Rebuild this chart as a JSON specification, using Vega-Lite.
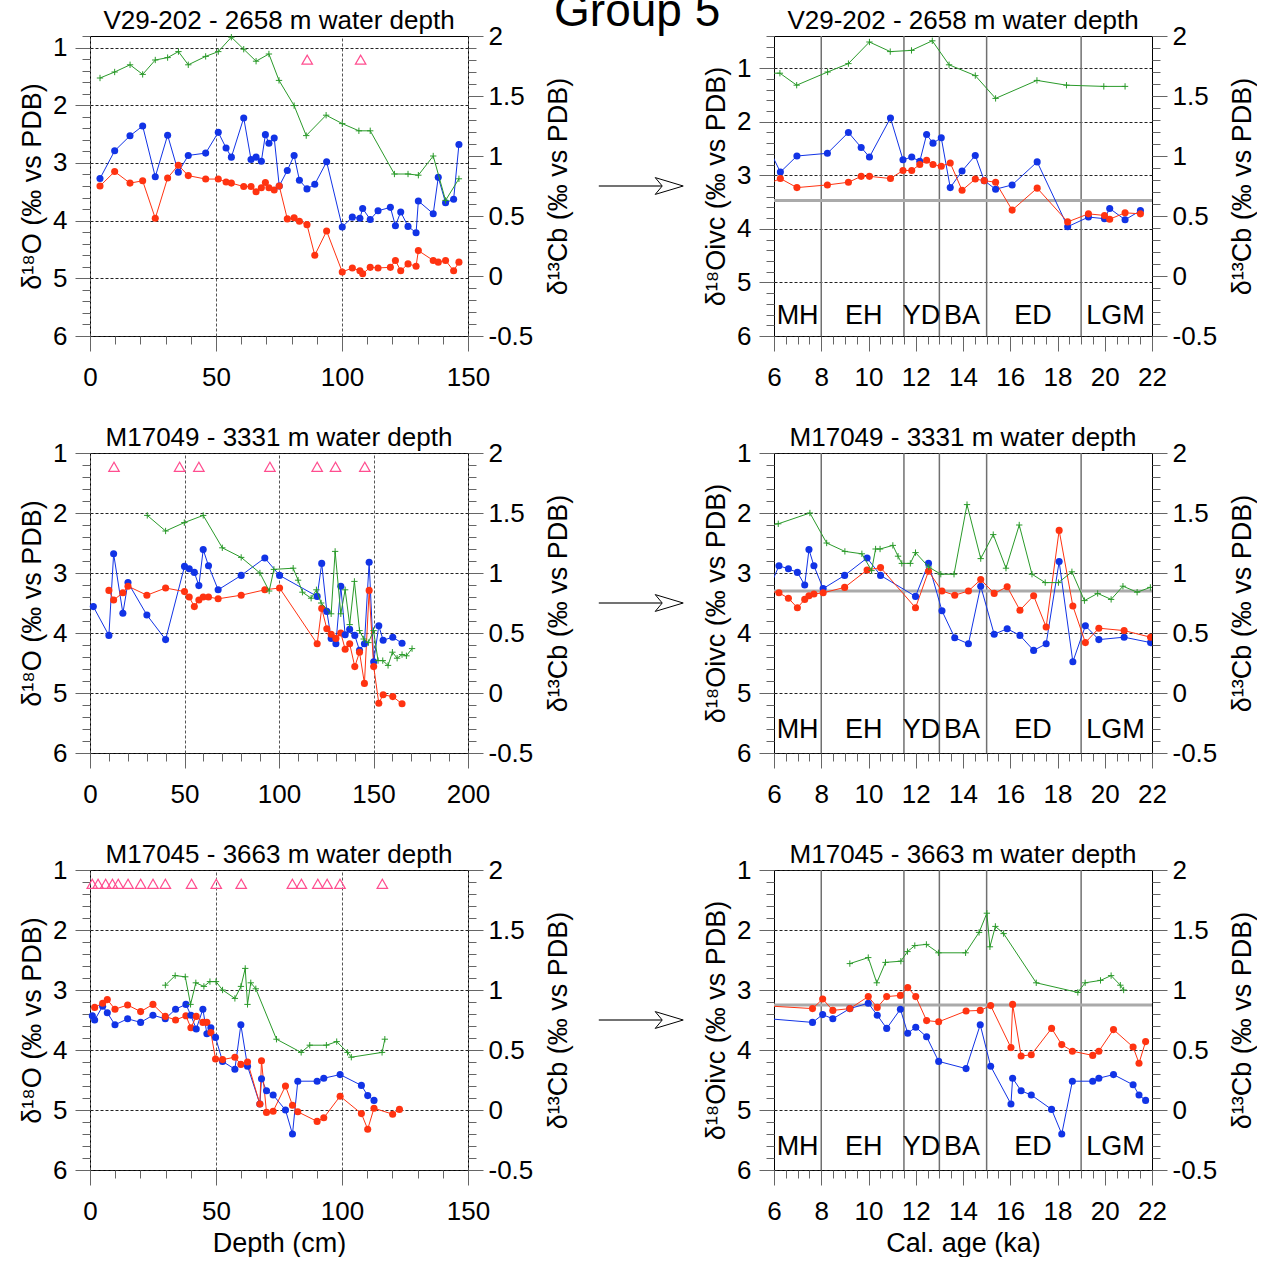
{
  "$schema": "https://vega.github.io/schema/vega-lite/v6.json",
  "padding": {"left": 18, "top": -12, "right": 0, "bottom": 0},
  "background": "white",
  "title": {"text": "Group 5", "fontSize": 46, "offset": -28, "frame": "bounds", "anchor": "middle"},
  "config": {
    "font": "Liberation Sans",
    "view": {"stroke": "#000", "strokeWidth": 1},
    "axis": {"labelFont": "Liberation Sans", "labelFontSize": 26, "titleFont": "Liberation Sans", "titleFontSize": 27, "titleFontWeight": "normal", "labelColor": "#000", "titleColor": "#000", "domain": false, "tickColor": "#666", "tickWidth": 1, "labelFlush": false, "labelOverlap": false, "labelBound": false},
    "title": {"font": "Liberation Sans", "fontSize": 26, "fontWeight": "normal", "frame": "group", "baseline": "alphabetic", "offset": -11, "color": "#000"}
  },
  "datasets": {
    "p1": [{"x":3.97,"b":3.27,"r":3.40},{"x":9.79,"b":2.79,"r":3.15},{"x":15.87,"b":2.53,"r":3.35},{"x":20.9,"b":2.36,"r":3.31},{"x":25.9,"b":3.24,"r":3.96},{"x":30.8,"b":2.52,"r":3.26},{"x":35.05,"b":3.16,"r":3.04},{"x":39.0,"b":2.87,"r":3.22},{"x":45.9,"b":2.83,"r":3.28},{"x":50.9,"b":2.47,"r":3.28},{"x":54.0,"b":2.74,"r":3.33},{"x":56.1,"b":2.90,"r":3.35},{"x":61.0,"b":2.22,"r":3.41},{"x":63.9,"b":2.94,"r":3.41},{"x":65.9,"b":2.90,"r":3.50},{"x":68.0,"b":2.97,"r":3.43},{"x":69.6,"b":2.51,"r":3.34},{"x":71.0,"b":2.66,"r":3.43},{"x":73.1,"b":2.57,"r":3.47},{"x":75.1,"b":3.40,"r":3.40},{"x":78.3,"b":3.13,"r":3.97},{"x":81.0,"b":2.87,"r":3.95},{"x":83.1,"b":3.30,"r":4.01},{"x":86.1,"b":3.45,"r":4.07},{"x":89.2,"b":3.37,"r":4.60},{"x":93.9,"b":2.98,"r":4.18},{"x":100.1,"b":4.11,"r":4.89},{"x":104.1,"b":3.94,"r":4.82},{"x":107.1,"b":3.96,"r":4.87},{"x":108.2,"b":3.79,"r":4.92},{"x":111.2,"b":3.98,"r":4.81},{"x":114.3,"b":3.83,"r":4.82},{"x":119.2,"b":3.77,"r":4.81},{"x":121.2,"b":4.09,"r":4.69},{"x":123.3,"b":3.85,"r":4.87},{"x":126.2,"b":4.10,"r":4.75},{"x":129.4,"b":4.21,"r":4.79},{"x":130.3,"b":3.66,"r":4.52},{"x":136.2,"b":3.88,"r":4.69},{"x":138.2,"b":3.25,"r":4.72},{"x":141.1,"b":3.69,"r":4.69},{"x":144.3,"b":3.63,"r":4.87},{"x":146.4,"b":2.68,"r":4.72}],
    "g1": [{"x":3.97,"v":1.65},{"x":9.79,"v":1.70},{"x":15.9,"v":1.76},{"x":20.9,"v":1.68},{"x":25.9,"v":1.80},{"x":30.8,"v":1.82},{"x":35.1,"v":1.87},{"x":39.0,"v":1.76},{"x":45.9,"v":1.83},{"x":50.9,"v":1.87},{"x":56.1,"v":1.99},{"x":61.0,"v":1.89},{"x":65.9,"v":1.79},{"x":71.0,"v":1.85},{"x":75.0,"v":1.63},{"x":81.0,"v":1.42},{"x":85.8,"v":1.17},{"x":93.7,"v":1.34},{"x":100.1,"v":1.27},{"x":106.7,"v":1.21},{"x":111.2,"v":1.21},{"x":120.8,"v":0.85},{"x":126.2,"v":0.85},{"x":130.3,"v":0.84},{"x":136.2,"v":1.00},{"x":141.1,"v":0.63},{"x":146.4,"v":0.81}],
    "t1": [{"x":86.2,"v":1.21},{"x":107.4,"v":1.21}],
    "p2": [{"x":5.8,"b":2.52,"r":3.15},{"x":6.27,"b":2.94,"r":3.06},{"x":6.97,"b":2.64,"r":3.23},{"x":8.26,"b":2.59,"r":3.18},{"x":9.15,"b":2.20,"r":3.13},{"x":9.69,"b":2.48,"r":3.02},{"x":10.04,"b":2.66,"r":3.02},{"x":10.93,"b":1.93,"r":3.06},{"x":11.46,"b":2.71,"r":2.91},{"x":11.83,"b":2.66,"r":2.91},{"x":12.17,"b":2.74,"r":2.80},{"x":12.46,"b":2.24,"r":2.72},{"x":12.73,"b":2.40,"r":2.80},{"x":13.08,"b":2.30,"r":2.83},{"x":13.46,"b":3.23,"r":2.77},{"x":13.96,"b":2.92,"r":3.28},{"x":14.52,"b":2.63,"r":3.07},{"x":14.90,"b":3.10,"r":3.10},{"x":15.38,"b":3.26,"r":3.13},{"x":16.08,"b":3.18,"r":3.65},{"x":17.14,"b":2.75,"r":3.24},{"x":18.43,"b":3.96,"r":3.87},{"x":19.31,"b":3.78,"r":3.72},{"x":19.99,"b":3.81,"r":3.75},{"x":20.21,"b":3.62,"r":3.82},{"x":20.86,"b":3.83,"r":3.70},{"x":21.51,"b":3.66,"r":3.72}],
    "g2": [{"x":5.8,"v":1.69},{"x":6.25,"v":1.69},{"x":6.96,"v":1.59},{"x":8.27,"v":1.70},{"x":9.15,"v":1.77},{"x":10.04,"v":1.95},{"x":10.92,"v":1.87},{"x":11.82,"v":1.88},{"x":12.70,"v":1.96},{"x":13.41,"v":1.76},{"x":14.52,"v":1.67},{"x":15.38,"v":1.48},{"x":17.13,"v":1.63},{"x":18.38,"v":1.59},{"x":19.96,"v":1.58},{"x":20.86,"v":1.58}],
    "p3": [{"x":1.76,"b":3.56},{"x":10.0,"b":4.04,"r":3.29},{"x":12.5,"b":2.68,"r":3.45},{"x":17.4,"b":3.67,"r":3.33},{"x":20.1,"b":3.16,"r":3.22},{"x":30.1,"b":3.70,"r":3.37},{"x":40.0,"b":4.11,"r":3.25},{"x":50.0,"b":2.89,"r":3.31},{"x":52.5,"b":2.93,"r":3.40},{"x":55.2,"b":2.99,"r":3.56},{"x":57.6,"b":3.21,"r":3.45},{"x":59.9,"b":2.61,"r":3.40},{"x":62.7,"b":2.88,"r":3.40},{"x":67.8,"b":3.28,"r":3.43},{"x":80.0,"b":3.04,"r":3.37},{"x":92.5,"b":2.75,"r":3.28},{"x":100.3,"b":3.04,"r":3.25},{"x":120.2,"b":3.39,"r":4.18},{"x":122.6,"b":2.84,"r":3.59},{"x":125.3,"b":3.64,"r":3.93},{"x":127.6,"b":4.09,"r":4.02},{"x":130.1,"b":4.18,"r":4.09},{"x":132.7,"b":3.22,"r":4.00},{"x":135.0,"b":4.03,"r":4.27},{"x":137.4,"b":3.94,"r":4.18},{"x":140.1,"b":4.04,"r":4.56},{"x":142.6,"b":4.29,"r":4.32},{"x":145.2,"b":4.18,"r":4.84},{"x":147.7,"b":2.82,"r":3.29},{"x":150.1,"b":4.48,"r":4.56},{"x":152.8,"b":3.88,"r":5.17},{"x":155.1,"b":4.12,"r":5.03},{"x":160.2,"b":4.07,"r":5.06},{"x":165.1,"b":4.17,"r":5.18}],
    "g3": [{"x":30.3,"v":1.48},{"x":40.0,"v":1.35},{"x":49.9,"v":1.42},{"x":59.9,"v":1.48},{"x":70.0,"v":1.21},{"x":80.0,"v":1.13},{"x":89.9,"v":1.00},{"x":94.8,"v":0.85},{"x":97.3,"v":1.03},{"x":107.5,"v":1.04},{"x":110.1,"v":0.94},{"x":112.4,"v":0.84},{"x":117.0,"v":0.79},{"x":119.8,"v":0.86},{"x":122.3,"v":0.75},{"x":127.6,"v":0.66},{"x":129.7,"v":1.18},{"x":132.7,"v":0.66},{"x":135.0,"v":0.86},{"x":137.4,"v":0.57},{"x":139.9,"v":0.93},{"x":142.6,"v":0.52},{"x":144.8,"v":0.45},{"x":147.3,"v":0.42},{"x":150.0,"v":0.52},{"x":152.4,"v":0.27},{"x":154.9,"v":0.27},{"x":157.7,"v":0.23},{"x":160.0,"v":0.34},{"x":162.5,"v":0.29},{"x":165.1,"v":0.32},{"x":167.4,"v":0.31},{"x":170.4,"v":0.37}],
    "t3": [{"x":12.7,"v":1.23},{"x":47.4,"v":1.23},{"x":57.6,"v":1.23},{"x":95.2,"v":1.23},{"x":120.2,"v":1.23},{"x":129.9,"v":1.23},{"x":145.4,"v":1.23}],
    "p4": [{"x":5.8,"b":3.25,"r":3.30},{"x":6.21,"b":2.88,"r":3.33},{"x":6.61,"b":2.93,"r":3.42},{"x":6.99,"b":2.99,"r":3.58},{"x":7.30,"b":3.20,"r":3.44},{"x":7.48,"b":2.61,"r":3.38},{"x":7.69,"b":2.88,"r":3.35},{"x":8.08,"b":3.26,"r":3.33},{"x":8.99,"b":3.04,"r":3.24},{"x":9.94,"b":2.75,"r":2.95},{"x":10.51,"b":3.04,"r":2.91},{"x":11.99,"b":3.39,"r":3.58},{"x":12.54,"b":2.84,"r":2.97},{"x":13.11,"b":3.63,"r":3.30},{"x":13.65,"b":4.08,"r":3.37},{"x":14.23,"b":4.18,"r":3.30},{"x":14.75,"b":3.22,"r":3.11},{"x":15.32,"b":4.02,"r":3.34},{"x":15.87,"b":3.93,"r":3.23},{"x":16.41,"b":4.04,"r":3.62},{"x":16.99,"b":4.29,"r":3.38},{"x":17.52,"b":4.18,"r":3.90},{"x":18.07,"b":2.81,"r":2.29},{"x":18.65,"b":4.48,"r":3.55},{"x":19.18,"b":3.88,"r":4.16},{"x":19.75,"b":4.11,"r":3.92},{"x":20.82,"b":4.07,"r":3.96},{"x":21.94,"b":4.16,"r":4.07}],
    "g4": [{"x":5.8,"v":1.40},{"x":6.18,"v":1.41},{"x":7.52,"v":1.50},{"x":8.23,"v":1.25},{"x":9.0,"v":1.18},{"x":9.72,"v":1.16},{"x":10.13,"v":1.02},{"x":10.30,"v":1.20},{"x":10.49,"v":1.20},{"x":11.03,"v":1.23},{"x":11.25,"v":1.14},{"x":11.41,"v":1.08},{"x":11.77,"v":1.08},{"x":11.99,"v":1.17},{"x":12.55,"v":1.05},{"x":13.06,"v":0.99},{"x":13.62,"v":0.99},{"x":14.17,"v":1.57},{"x":14.75,"v":1.12},{"x":15.28,"v":1.32},{"x":15.82,"v":1.04},{"x":16.38,"v":1.40},{"x":16.92,"v":0.99},{"x":17.48,"v":0.92},{"x":18.04,"v":0.92},{"x":18.61,"v":1.01},{"x":19.14,"v":0.77},{"x":19.70,"v":0.83},{"x":20.27,"v":0.78},{"x":20.77,"v":0.89},{"x":21.37,"v":0.84},{"x":21.93,"v":0.88}],
    "p5": [{"x":0.93,"b":3.43},{"x":1.85,"b":3.50,"r":3.29},{"x":5.02,"b":3.27,"r":3.22},{"x":6.87,"b":3.38,"r":3.16},{"x":9.91,"b":3.58,"r":3.32},{"x":14.93,"b":3.48,"r":3.25},{"x":20.09,"b":3.54,"r":3.36},{"x":24.98,"b":3.42,"r":3.24},{"x":29.87,"b":3.48,"r":3.44},{"x":33.96,"b":3.32,"r":3.50},{"x":38.06,"b":3.24,"r":3.43},{"x":40.04,"b":3.42,"r":3.63},{"x":42.16,"b":3.65,"r":3.44},{"x":44.80,"b":3.32,"r":3.54},{"x":46.39,"b":3.73,"r":3.54},{"x":47.97,"b":3.63,"r":3.71},{"x":49.82,"b":3.79,"r":4.15},{"x":52.60,"b":4.19,"r":4.16},{"x":57.49,"b":4.32,"r":4.12},{"x":59.87,"b":3.58,"r":4.24},{"x":62.51,"b":4.27,"r":4.20},{"x":67.40,"b":4.90,"r":4.90},{"x":68.06,"b":4.48,"r":4.18},{"x":70.04,"b":4.68,"r":5.04},{"x":72.68,"b":4.75,"r":5.02},{"x":77.57,"b":5.00,"r":4.60},{"x":80.35,"b":5.40,"r":4.92},{"x":82.46,"b":4.52,"r":5.03},{"x":90.13,"b":4.52,"r":5.19},{"x":92.77,"b":4.47,"r":5.13},{"x":99.25,"b":4.41,"r":4.77},{"x":107.7,"b":4.59,"r":5.06},{"x":110.2,"b":4.76,"r":5.32},{"x":112.7,"b":4.84,"r":4.97},{"x":120.1,"r":5.07},{"x":122.8,"r":4.99}],
    "g5": [{"x":29.9,"v":1.04},{"x":33.8,"v":1.12},{"x":37.8,"v":1.11},{"x":39.9,"v":0.88},{"x":42.0,"v":1.06},{"x":45.2,"v":1.03},{"x":47.6,"v":1.07},{"x":50.0,"v":1.07},{"x":52.6,"v":1.00},{"x":57.5,"v":0.93},{"x":59.9,"v":1.03},{"x":61.6,"v":1.18},{"x":62.5,"v":0.88},{"x":63.8,"v":1.06},{"x":65.8,"v":1.01},{"x":74.0,"v":0.59},{"x":83.8,"v":0.48},{"x":87.2,"v":0.54},{"x":93.8,"v":0.54},{"x":97.9,"v":0.57},{"x":102.2,"v":0.48},{"x":103.7,"v":0.44},{"x":115.9,"v":0.48},{"x":117.0,"v":0.59}],
    "t5": [{"x":0.9,"v":1.23},{"x":3.2,"v":1.23},{"x":6.2,"v":1.23},{"x":8.9,"v":1.23},{"x":11.2,"v":1.23},{"x":15.1,"v":1.23},{"x":20.1,"v":1.23},{"x":25.0,"v":1.23},{"x":29.9,"v":1.23},{"x":40.3,"v":1.23},{"x":50.1,"v":1.23},{"x":60.0,"v":1.23},{"x":80.3,"v":1.23},{"x":83.9,"v":1.23},{"x":90.4,"v":1.23},{"x":94.1,"v":1.23},{"x":99.2,"v":1.23},{"x":116.0,"v":1.23}],
    "p6": [{"x":5.5,"b":3.47,"r":3.26},{"x":7.63,"b":3.54,"r":3.31},{"x":8.06,"b":3.41,"r":3.15},{"x":8.49,"b":3.48,"r":3.34},{"x":9.21,"b":3.31,"r":3.31},{"x":9.99,"b":3.22,"r":3.11},{"x":10.37,"b":3.42,"r":3.29},{"x":10.77,"b":3.64,"r":3.11},{"x":11.35,"b":3.32,"r":3.09},{"x":11.66,"b":3.72,"r":2.96},{"x":12.0,"b":3.62,"r":3.11},{"x":12.46,"b":3.78,"r":3.51},{"x":12.97,"b":4.19,"r":3.53},{"x":14.13,"b":4.31,"r":3.35},{"x":14.73,"b":3.58,"r":3.34},{"x":15.17,"b":4.27,"r":3.26},{"x":16.03,"b":4.90,"r":3.96},{"x":16.10,"b":4.47,"r":3.24},{"x":16.46,"b":4.68,"r":4.10},{"x":16.89,"b":4.75,"r":4.08},{"x":17.75,"b":4.99,"r":3.64},{"x":18.18,"b":5.40,"r":3.91},{"x":18.63,"b":4.52,"r":4.02},{"x":19.49,"b":4.52,"r":4.09},{"x":19.75,"b":4.47,"r":4.02},{"x":20.37,"b":4.41,"r":3.66},{"x":21.20,"b":4.58,"r":3.95},{"x":21.45,"b":4.75,"r":4.22},{"x":21.73,"b":4.84,"r":3.86}],
    "g6": [{"x":9.21,"v":1.22},{"x":9.99,"v":1.27},{"x":10.35,"v":1.06},{"x":10.72,"v":1.23},{"x":11.37,"v":1.24},{"x":11.65,"v":1.32},{"x":11.96,"v":1.37},{"x":12.45,"v":1.38},{"x":12.96,"v":1.31},{"x":14.11,"v":1.31},{"x":14.68,"v":1.48},{"x":15.01,"v":1.64},{"x":15.14,"v":1.36},{"x":15.37,"v":1.53},{"x":15.72,"v":1.47},{"x":17.10,"v":1.06},{"x":18.86,"v":0.98},{"x":19.17,"v":1.06},{"x":19.82,"v":1.08},{"x":20.27,"v":1.12},{"x":20.66,"v":1.04},{"x":20.80,"v":1.00}],
    "per": [{"x":7.0,"v":5.62,"label":"MH"},{"x":9.8,"v":5.62,"label":"EH"},{"x":12.24,"v":5.62,"label":"YD"},{"x":13.96,"v":5.62,"label":"BA"},{"x":16.96,"v":5.62,"label":"ED"},{"x":20.45,"v":5.62,"label":"LGM"}],
    "bnd": [{"x":8},{"x":11.5},{"x":13},{"x":15},{"x":19}],
    "arrow": [{"x":0.2,"x2":0.692,"hx":0.746,"y":0.5}]
  },
  "vconcat": [
    {
      "spacing": 0,
      "hconcat": [
        {
          "width": 378, "height": 300,
          "title": "V29-202 - 2658 m water depth",
          "resolve": {"scale": {"y": "independent"}},
          "encoding": {
            "x": {"field": "x", "type": "quantitative", "title": null, "scale": {"domain": [0, 150], "nice": false, "zero": false},
              "axis": {"values": [0,10,20,30,40,50,60,70,80,90,100,110,120,130,140,150], "labelExpr": "datum.value % 50 == 0 ? '' + datum.value : ''", "tickSize": {"condition": {"test": "datum.value % 50 == 0", "value": 15}, "value": 8}, "grid": true, "gridOpacity": {"condition": {"test": "datum.value % 50 == 0", "value": 1}, "value": 0}, "gridDash": [3, 2], "gridColor": "#555", "labelPadding": 13, "labelOverlap": false}}
          },
          "layer": [
            {
              "encoding": {
                "y": {"field": "v", "type": "quantitative", "title": "δ¹⁸O (‰ vs PDB)", "scale": {"domain": [0.8, 6], "reverse": true, "nice": false, "zero": false},
                  "axis": {"orient": "left", "values": [0.8,1,1.2,1.4,1.6,1.8,2,2.2,2.4,2.6,2.8,3,3.2,3.4,3.6,3.8,4,4.2,4.4,4.6,4.8,5,5.2,5.4,5.6,5.8,6], "labelExpr": "abs(datum.value - round(datum.value)) < 0.001 ? '' + round(datum.value) : ''", "tickSize": {"condition": {"test": "abs(datum.value - round(datum.value)) < 0.001", "value": 15}, "value": 8}, "grid": true, "gridOpacity": {"condition": {"test": "abs(datum.value - round(datum.value)) < 0.001", "value": 1}, "value": 0}, "gridDash": [3, 2], "gridColor": "#222", "labelPadding": 8, "titlePadding": 6, "labelOverlap": false}}
              },
              "layer": [
                {"data": {"name": "p1"}, "transform": [{"fold": ["b", "r"], "as": ["s", "v"]}, {"filter": "isValid(datum.v)"}], "mark": {"type": "line", "strokeWidth": 1}, "encoding": {"color": {"field": "s", "type": "nominal", "scale": {"domain": ["r", "b"], "range": ["#ff3311", "#1133e6"]}, "legend": null}}},
                {"data": {"name": "p1"}, "transform": [{"fold": ["b", "r"], "as": ["s", "v"]}, {"filter": "isValid(datum.v)"}], "mark": {"type": "circle", "size": 50, "opacity": 1}, "encoding": {"color": {"field": "s", "type": "nominal", "scale": {"domain": ["r", "b"], "range": ["#ff3311", "#1133e6"]}, "legend": null}}},
                {"data": {"name": "t1"}, "mark": {"type": "point", "shape": "triangle-up", "size": 110, "color": "#ff4d8f", "filled": false, "strokeWidth": 1.2, "opacity": 1}}
              ]
            },
            {
              "data": {"name": "g1"},
              "encoding": {
                "y": {"field": "v", "type": "quantitative", "title": "δ¹³Cb (‰ vs PDB)", "scale": {"domain": [-0.5, 2], "nice": false, "zero": false},
                  "axis": {"orient": "right", "values": [-0.5,-0.4,-0.3,-0.2,-0.1,0,0.1,0.2,0.3,0.4,0.5,0.6,0.7,0.8,0.9,1,1.1,1.2,1.3,1.4,1.5,1.6,1.7,1.8,1.9,2], "labelExpr": "abs(datum.value*2 - round(datum.value*2)) < 0.001 ? '' + round(datum.value*10)/10 : ''", "tickSize": {"condition": {"test": "abs(datum.value*2 - round(datum.value*2)) < 0.001", "value": 15}, "value": 8}, "grid": false, "labelPadding": 5, "titlePadding": 13, "titleAngle": 270, "titleBaseline": "top", "labelOverlap": false}}
              },
              "layer": [
                {"mark": {"type": "line", "color": "#2a9a2a", "strokeWidth": 1}},
                {"mark": {"type": "point", "shape": "M-1,0H1M0,-1V1", "size": 40, "color": "#2a9a2a", "filled": false, "strokeWidth": 1, "opacity": 1}}
              ]
            }
          ]
        },
        {
          "width": 129, "height": 300, "view": {"stroke": null},
          "data": {"name": "arrow"},
          "layer": [
            {"mark": {"type": "rule", "color": "#444", "strokeWidth": 1.5}, "encoding": {"x": {"field": "x", "type": "quantitative", "scale": {"domain": [0, 1]}, "axis": null}, "x2": {"field": "x2"}, "y": {"field": "y", "type": "quantitative", "scale": {"domain": [0, 1]}, "axis": null}}},
            {"mark": {"type": "point", "shape": "M-1,-0.6L1,0L-1,0.6L-0.5,0Z", "size": 784, "filled": true, "fill": "#fff", "stroke": "#000", "strokeWidth": 1, "opacity": 1}, "encoding": {"x": {"field": "hx", "type": "quantitative", "scale": {"domain": [0, 1]}, "axis": null}, "y": {"field": "y", "type": "quantitative", "scale": {"domain": [0, 1]}, "axis": null}}}
          ]
        },
        {
          "width": 378, "height": 300,
          "title": "V29-202 - 2658 m water depth",
          "resolve": {"scale": {"y": "independent"}},
          "encoding": {
            "x": {"field": "x", "type": "quantitative", "title": null, "scale": {"domain": [6, 22], "nice": false, "zero": false},
              "axis": {"values": [6,6.5,7,7.5,8,8.5,9,9.5,10,10.5,11,11.5,12,12.5,13,13.5,14,14.5,15,15.5,16,16.5,17,17.5,18,18.5,19,19.5,20,20.5,21,21.5,22], "labelExpr": "datum.value % 2 == 0 ? '' + datum.value : ''", "tickSize": {"condition": {"test": "datum.value % 2 == 0", "value": 15}, "value": 8}, "grid": false, "labelPadding": 13, "labelOverlap": false}}
          },
          "layer": [
            {"data": {"name": "bnd"}, "mark": {"type": "rule", "color": "#707070", "strokeWidth": 1.5}, "encoding": {}},
            {"data": {"values": [{"x": 6, "x2": 22, "v": 3.47}]}, "mark": {"type": "rule", "color": "#aaaaaa", "strokeWidth": 3}, "encoding": {"x2": {"field": "x2"}, "y": {"field": "v", "type": "quantitative", "scale": {"domain": [0.4, 6], "reverse": true, "nice": false, "zero": false}, "axis": null}}},
            {
              "encoding": {
                "y": {"field": "v", "type": "quantitative", "title": "δ¹⁸Oivc (‰ vs PDB)", "scale": {"domain": [0.4, 6], "reverse": true, "nice": false, "zero": false},
                  "axis": {"orient": "left", "values": [0.4,0.6,0.8,1,1.2,1.4,1.6,1.8,2,2.2,2.4,2.6,2.8,3,3.2,3.4,3.6,3.8,4,4.2,4.4,4.6,4.8,5,5.2,5.4,5.6,5.8,6], "labelExpr": "abs(datum.value - round(datum.value)) < 0.001 ? '' + round(datum.value) : ''", "tickSize": {"condition": {"test": "abs(datum.value - round(datum.value)) < 0.001", "value": 15}, "value": 8}, "grid": true, "gridOpacity": {"condition": {"test": "abs(datum.value - round(datum.value)) < 0.001", "value": 1}, "value": 0}, "gridDash": [3, 2], "gridColor": "#222", "labelPadding": 8, "titlePadding": 6, "labelOverlap": false}}
              },
              "layer": [
                {"data": {"name": "p2"}, "transform": [{"fold": ["b", "r"], "as": ["s", "v"]}, {"filter": "isValid(datum.v)"}], "mark": {"type": "line", "strokeWidth": 1, "clip": true}, "encoding": {"color": {"field": "s", "type": "nominal", "scale": {"domain": ["r", "b"], "range": ["#ff3311", "#1133e6"]}, "legend": null}}},
                {"data": {"name": "p2"}, "transform": [{"fold": ["b", "r"], "as": ["s", "v"]}, {"filter": "isValid(datum.v)"}], "mark": {"type": "circle", "size": 50, "opacity": 1, "clip": true}, "encoding": {"color": {"field": "s", "type": "nominal", "scale": {"domain": ["r", "b"], "range": ["#ff3311", "#1133e6"]}, "legend": null}}},
                {"data": {"name": "per"}, "mark": {"type": "text", "fontSize": 27, "baseline": "middle", "align": "center", "color": "#000"}, "encoding": {"text": {"field": "label"}}}
              ]
            },
            {
              "data": {"name": "g2"},
              "encoding": {
                "y": {"field": "v", "type": "quantitative", "title": "δ¹³Cb (‰ vs PDB)", "scale": {"domain": [-0.5, 2], "nice": false, "zero": false},
                  "axis": {"orient": "right", "values": [-0.5,-0.4,-0.3,-0.2,-0.1,0,0.1,0.2,0.3,0.4,0.5,0.6,0.7,0.8,0.9,1,1.1,1.2,1.3,1.4,1.5,1.6,1.7,1.8,1.9,2], "labelExpr": "abs(datum.value*2 - round(datum.value*2)) < 0.001 ? '' + round(datum.value*10)/10 : ''", "tickSize": {"condition": {"test": "abs(datum.value*2 - round(datum.value*2)) < 0.001", "value": 15}, "value": 8}, "grid": false, "labelPadding": 5, "titlePadding": 13, "titleAngle": 270, "titleBaseline": "top", "labelOverlap": false}}
              },
              "layer": [
                {"mark": {"type": "line", "color": "#2a9a2a", "strokeWidth": 1, "clip": true}},
                {"mark": {"type": "point", "shape": "M-1,0H1M0,-1V1", "size": 40, "color": "#2a9a2a", "filled": false, "strokeWidth": 1, "opacity": 1, "clip": true}}
              ]
            }
          ]
        }
      ]
    },
    {
      "spacing": 0,
      "hconcat": [
        {
          "width": 378, "height": 300,
          "title": "M17049 - 3331 m water depth",
          "resolve": {"scale": {"y": "independent"}},
          "encoding": {
            "x": {"field": "x", "type": "quantitative", "title": null, "scale": {"domain": [0, 200], "nice": false, "zero": false},
              "axis": {"values": [0,10,20,30,40,50,60,70,80,90,100,110,120,130,140,150,160,170,180,190,200], "labelExpr": "datum.value % 50 == 0 ? '' + datum.value : ''", "tickSize": {"condition": {"test": "datum.value % 50 == 0", "value": 15}, "value": 8}, "grid": true, "gridOpacity": {"condition": {"test": "datum.value % 50 == 0", "value": 1}, "value": 0}, "gridDash": [3, 2], "gridColor": "#555", "labelPadding": 13, "labelOverlap": false}}
          },
          "layer": [
            {
              "encoding": {
                "y": {"field": "v", "type": "quantitative", "title": "δ¹⁸O (‰ vs PDB)", "scale": {"domain": [1, 6], "reverse": true, "nice": false, "zero": false},
                  "axis": {"orient": "left", "values": [1,1.2,1.4,1.6,1.8,2,2.2,2.4,2.6,2.8,3,3.2,3.4,3.6,3.8,4,4.2,4.4,4.6,4.8,5,5.2,5.4,5.6,5.8,6], "labelExpr": "abs(datum.value - round(datum.value)) < 0.001 ? '' + round(datum.value) : ''", "tickSize": {"condition": {"test": "abs(datum.value - round(datum.value)) < 0.001", "value": 15}, "value": 8}, "grid": true, "gridOpacity": {"condition": {"test": "abs(datum.value - round(datum.value)) < 0.001", "value": 1}, "value": 0}, "gridDash": [3, 2], "gridColor": "#222", "labelPadding": 8, "titlePadding": 6, "labelOverlap": false}}
              },
              "layer": [
                {"data": {"name": "p3"}, "transform": [{"fold": ["b", "r"], "as": ["s", "v"]}, {"filter": "isValid(datum.v)"}], "mark": {"type": "line", "strokeWidth": 1}, "encoding": {"color": {"field": "s", "type": "nominal", "scale": {"domain": ["r", "b"], "range": ["#ff3311", "#1133e6"]}, "legend": null}}},
                {"data": {"name": "p3"}, "transform": [{"fold": ["b", "r"], "as": ["s", "v"]}, {"filter": "isValid(datum.v)"}], "mark": {"type": "circle", "size": 50, "opacity": 1}, "encoding": {"color": {"field": "s", "type": "nominal", "scale": {"domain": ["r", "b"], "range": ["#ff3311", "#1133e6"]}, "legend": null}}},
                {"data": {"name": "t3"}, "mark": {"type": "point", "shape": "triangle-up", "size": 110, "color": "#ff4d8f", "filled": false, "strokeWidth": 1.2, "opacity": 1}}
              ]
            },
            {
              "data": {"name": "g3"},
              "encoding": {
                "y": {"field": "v", "type": "quantitative", "title": "δ¹³Cb (‰ vs PDB)", "scale": {"domain": [-0.5, 2], "nice": false, "zero": false},
                  "axis": {"orient": "right", "values": [-0.5,-0.4,-0.3,-0.2,-0.1,0,0.1,0.2,0.3,0.4,0.5,0.6,0.7,0.8,0.9,1,1.1,1.2,1.3,1.4,1.5,1.6,1.7,1.8,1.9,2], "labelExpr": "abs(datum.value*2 - round(datum.value*2)) < 0.001 ? '' + round(datum.value*10)/10 : ''", "tickSize": {"condition": {"test": "abs(datum.value*2 - round(datum.value*2)) < 0.001", "value": 15}, "value": 8}, "grid": false, "labelPadding": 5, "titlePadding": 13, "titleAngle": 270, "titleBaseline": "top", "labelOverlap": false}}
              },
              "layer": [
                {"mark": {"type": "line", "color": "#2a9a2a", "strokeWidth": 1}},
                {"mark": {"type": "point", "shape": "M-1,0H1M0,-1V1", "size": 40, "color": "#2a9a2a", "filled": false, "strokeWidth": 1, "opacity": 1}}
              ]
            }
          ]
        },
        {
          "width": 129, "height": 300, "view": {"stroke": null},
          "data": {"name": "arrow"},
          "layer": [
            {"mark": {"type": "rule", "color": "#444", "strokeWidth": 1.5}, "encoding": {"x": {"field": "x", "type": "quantitative", "scale": {"domain": [0, 1]}, "axis": null}, "x2": {"field": "x2"}, "y": {"field": "y", "type": "quantitative", "scale": {"domain": [0, 1]}, "axis": null}}},
            {"mark": {"type": "point", "shape": "M-1,-0.6L1,0L-1,0.6L-0.5,0Z", "size": 784, "filled": true, "fill": "#fff", "stroke": "#000", "strokeWidth": 1, "opacity": 1}, "encoding": {"x": {"field": "hx", "type": "quantitative", "scale": {"domain": [0, 1]}, "axis": null}, "y": {"field": "y", "type": "quantitative", "scale": {"domain": [0, 1]}, "axis": null}}}
          ]
        },
        {
          "width": 378, "height": 300,
          "title": "M17049 - 3331 m water depth",
          "resolve": {"scale": {"y": "independent"}},
          "encoding": {
            "x": {"field": "x", "type": "quantitative", "title": null, "scale": {"domain": [6, 22], "nice": false, "zero": false},
              "axis": {"values": [6,6.5,7,7.5,8,8.5,9,9.5,10,10.5,11,11.5,12,12.5,13,13.5,14,14.5,15,15.5,16,16.5,17,17.5,18,18.5,19,19.5,20,20.5,21,21.5,22], "labelExpr": "datum.value % 2 == 0 ? '' + datum.value : ''", "tickSize": {"condition": {"test": "datum.value % 2 == 0", "value": 15}, "value": 8}, "grid": false, "labelPadding": 13, "labelOverlap": false}}
          },
          "layer": [
            {"data": {"name": "bnd"}, "mark": {"type": "rule", "color": "#707070", "strokeWidth": 1.5}, "encoding": {}},
            {"data": {"values": [{"x": 6, "x2": 22, "v": 3.30}]}, "mark": {"type": "rule", "color": "#aaaaaa", "strokeWidth": 3}, "encoding": {"x2": {"field": "x2"}, "y": {"field": "v", "type": "quantitative", "scale": {"domain": [1, 6], "reverse": true, "nice": false, "zero": false}, "axis": null}}},
            {
              "encoding": {
                "y": {"field": "v", "type": "quantitative", "title": "δ¹⁸Oivc (‰ vs PDB)", "scale": {"domain": [1, 6], "reverse": true, "nice": false, "zero": false},
                  "axis": {"orient": "left", "values": [1,1.2,1.4,1.6,1.8,2,2.2,2.4,2.6,2.8,3,3.2,3.4,3.6,3.8,4,4.2,4.4,4.6,4.8,5,5.2,5.4,5.6,5.8,6], "labelExpr": "abs(datum.value - round(datum.value)) < 0.001 ? '' + round(datum.value) : ''", "tickSize": {"condition": {"test": "abs(datum.value - round(datum.value)) < 0.001", "value": 15}, "value": 8}, "grid": true, "gridOpacity": {"condition": {"test": "abs(datum.value - round(datum.value)) < 0.001", "value": 1}, "value": 0}, "gridDash": [3, 2], "gridColor": "#222", "labelPadding": 8, "titlePadding": 6, "labelOverlap": false}}
              },
              "layer": [
                {"data": {"name": "p4"}, "transform": [{"fold": ["b", "r"], "as": ["s", "v"]}, {"filter": "isValid(datum.v)"}], "mark": {"type": "line", "strokeWidth": 1, "clip": true}, "encoding": {"color": {"field": "s", "type": "nominal", "scale": {"domain": ["r", "b"], "range": ["#ff3311", "#1133e6"]}, "legend": null}}},
                {"data": {"name": "p4"}, "transform": [{"fold": ["b", "r"], "as": ["s", "v"]}, {"filter": "isValid(datum.v)"}], "mark": {"type": "circle", "size": 50, "opacity": 1, "clip": true}, "encoding": {"color": {"field": "s", "type": "nominal", "scale": {"domain": ["r", "b"], "range": ["#ff3311", "#1133e6"]}, "legend": null}}},
                {"data": {"name": "per"}, "mark": {"type": "text", "fontSize": 27, "baseline": "middle", "align": "center", "color": "#000"}, "encoding": {"text": {"field": "label"}}}
              ]
            },
            {
              "data": {"name": "g4"},
              "encoding": {
                "y": {"field": "v", "type": "quantitative", "title": "δ¹³Cb (‰ vs PDB)", "scale": {"domain": [-0.5, 2], "nice": false, "zero": false},
                  "axis": {"orient": "right", "values": [-0.5,-0.4,-0.3,-0.2,-0.1,0,0.1,0.2,0.3,0.4,0.5,0.6,0.7,0.8,0.9,1,1.1,1.2,1.3,1.4,1.5,1.6,1.7,1.8,1.9,2], "labelExpr": "abs(datum.value*2 - round(datum.value*2)) < 0.001 ? '' + round(datum.value*10)/10 : ''", "tickSize": {"condition": {"test": "abs(datum.value*2 - round(datum.value*2)) < 0.001", "value": 15}, "value": 8}, "grid": false, "labelPadding": 5, "titlePadding": 13, "titleAngle": 270, "titleBaseline": "top", "labelOverlap": false}}
              },
              "layer": [
                {"mark": {"type": "line", "color": "#2a9a2a", "strokeWidth": 1, "clip": true}},
                {"mark": {"type": "point", "shape": "M-1,0H1M0,-1V1", "size": 40, "color": "#2a9a2a", "filled": false, "strokeWidth": 1, "opacity": 1, "clip": true}}
              ]
            }
          ]
        }
      ]
    },
    {
      "spacing": 0,
      "hconcat": [
        {
          "width": 378, "height": 300,
          "title": "M17045 - 3663 m water depth",
          "resolve": {"scale": {"y": "independent"}},
          "encoding": {
            "x": {"field": "x", "type": "quantitative", "title": "Depth (cm)", "scale": {"domain": [0, 150], "nice": false, "zero": false},
              "axis": {"values": [0,10,20,30,40,50,60,70,80,90,100,110,120,130,140,150], "labelExpr": "datum.value % 50 == 0 ? '' + datum.value : ''", "tickSize": {"condition": {"test": "datum.value % 50 == 0", "value": 15}, "value": 8}, "grid": true, "gridOpacity": {"condition": {"test": "datum.value % 50 == 0", "value": 1}, "value": 0}, "gridDash": [3, 2], "gridColor": "#555", "labelPadding": 13, "titlePadding": 6, "labelOverlap": false}}
          },
          "layer": [
            {
              "encoding": {
                "y": {"field": "v", "type": "quantitative", "title": "δ¹⁸O (‰ vs PDB)", "scale": {"domain": [1, 6], "reverse": true, "nice": false, "zero": false},
                  "axis": {"orient": "left", "values": [1,1.2,1.4,1.6,1.8,2,2.2,2.4,2.6,2.8,3,3.2,3.4,3.6,3.8,4,4.2,4.4,4.6,4.8,5,5.2,5.4,5.6,5.8,6], "labelExpr": "abs(datum.value - round(datum.value)) < 0.001 ? '' + round(datum.value) : ''", "tickSize": {"condition": {"test": "abs(datum.value - round(datum.value)) < 0.001", "value": 15}, "value": 8}, "grid": true, "gridOpacity": {"condition": {"test": "abs(datum.value - round(datum.value)) < 0.001", "value": 1}, "value": 0}, "gridDash": [3, 2], "gridColor": "#222", "labelPadding": 8, "titlePadding": 6, "labelOverlap": false}}
              },
              "layer": [
                {"data": {"name": "p5"}, "transform": [{"fold": ["b", "r"], "as": ["s", "v"]}, {"filter": "isValid(datum.v)"}], "mark": {"type": "line", "strokeWidth": 1}, "encoding": {"color": {"field": "s", "type": "nominal", "scale": {"domain": ["r", "b"], "range": ["#ff3311", "#1133e6"]}, "legend": null}}},
                {"data": {"name": "p5"}, "transform": [{"fold": ["b", "r"], "as": ["s", "v"]}, {"filter": "isValid(datum.v)"}], "mark": {"type": "circle", "size": 50, "opacity": 1}, "encoding": {"color": {"field": "s", "type": "nominal", "scale": {"domain": ["r", "b"], "range": ["#ff3311", "#1133e6"]}, "legend": null}}},
                {"data": {"name": "t5"}, "mark": {"type": "point", "shape": "triangle-up", "size": 110, "color": "#ff4d8f", "filled": false, "strokeWidth": 1.2, "opacity": 1}}
              ]
            },
            {
              "data": {"name": "g5"},
              "encoding": {
                "y": {"field": "v", "type": "quantitative", "title": "δ¹³Cb (‰ vs PDB)", "scale": {"domain": [-0.5, 2], "nice": false, "zero": false},
                  "axis": {"orient": "right", "values": [-0.5,-0.4,-0.3,-0.2,-0.1,0,0.1,0.2,0.3,0.4,0.5,0.6,0.7,0.8,0.9,1,1.1,1.2,1.3,1.4,1.5,1.6,1.7,1.8,1.9,2], "labelExpr": "abs(datum.value*2 - round(datum.value*2)) < 0.001 ? '' + round(datum.value*10)/10 : ''", "tickSize": {"condition": {"test": "abs(datum.value*2 - round(datum.value*2)) < 0.001", "value": 15}, "value": 8}, "grid": false, "labelPadding": 5, "titlePadding": 13, "titleAngle": 270, "titleBaseline": "top", "labelOverlap": false}}
              },
              "layer": [
                {"mark": {"type": "line", "color": "#2a9a2a", "strokeWidth": 1}},
                {"mark": {"type": "point", "shape": "M-1,0H1M0,-1V1", "size": 40, "color": "#2a9a2a", "filled": false, "strokeWidth": 1, "opacity": 1}}
              ]
            }
          ]
        },
        {
          "width": 129, "height": 300, "view": {"stroke": null},
          "data": {"name": "arrow"},
          "layer": [
            {"mark": {"type": "rule", "color": "#444", "strokeWidth": 1.5}, "encoding": {"x": {"field": "x", "type": "quantitative", "scale": {"domain": [0, 1]}, "axis": null}, "x2": {"field": "x2"}, "y": {"field": "y", "type": "quantitative", "scale": {"domain": [0, 1]}, "axis": null}}},
            {"mark": {"type": "point", "shape": "M-1,-0.6L1,0L-1,0.6L-0.5,0Z", "size": 784, "filled": true, "fill": "#fff", "stroke": "#000", "strokeWidth": 1, "opacity": 1}, "encoding": {"x": {"field": "hx", "type": "quantitative", "scale": {"domain": [0, 1]}, "axis": null}, "y": {"field": "y", "type": "quantitative", "scale": {"domain": [0, 1]}, "axis": null}}}
          ]
        },
        {
          "width": 378, "height": 300,
          "title": "M17045 - 3663 m water depth",
          "resolve": {"scale": {"y": "independent"}},
          "encoding": {
            "x": {"field": "x", "type": "quantitative", "title": "Cal. age (ka)", "scale": {"domain": [6, 22], "nice": false, "zero": false},
              "axis": {"values": [6,6.5,7,7.5,8,8.5,9,9.5,10,10.5,11,11.5,12,12.5,13,13.5,14,14.5,15,15.5,16,16.5,17,17.5,18,18.5,19,19.5,20,20.5,21,21.5,22], "labelExpr": "datum.value % 2 == 0 ? '' + datum.value : ''", "tickSize": {"condition": {"test": "datum.value % 2 == 0", "value": 15}, "value": 8}, "grid": false, "labelPadding": 13, "titlePadding": 6, "labelOverlap": false}}
          },
          "layer": [
            {"data": {"name": "bnd"}, "mark": {"type": "rule", "color": "#707070", "strokeWidth": 1.5}, "encoding": {}},
            {"data": {"values": [{"x": 6, "x2": 22, "v": 3.25}]}, "mark": {"type": "rule", "color": "#aaaaaa", "strokeWidth": 3}, "encoding": {"x2": {"field": "x2"}, "y": {"field": "v", "type": "quantitative", "scale": {"domain": [1, 6], "reverse": true, "nice": false, "zero": false}, "axis": null}}},
            {
              "encoding": {
                "y": {"field": "v", "type": "quantitative", "title": "δ¹⁸Oivc (‰ vs PDB)", "scale": {"domain": [1, 6], "reverse": true, "nice": false, "zero": false},
                  "axis": {"orient": "left", "values": [1,1.2,1.4,1.6,1.8,2,2.2,2.4,2.6,2.8,3,3.2,3.4,3.6,3.8,4,4.2,4.4,4.6,4.8,5,5.2,5.4,5.6,5.8,6], "labelExpr": "abs(datum.value - round(datum.value)) < 0.001 ? '' + round(datum.value) : ''", "tickSize": {"condition": {"test": "abs(datum.value - round(datum.value)) < 0.001", "value": 15}, "value": 8}, "grid": true, "gridOpacity": {"condition": {"test": "abs(datum.value - round(datum.value)) < 0.001", "value": 1}, "value": 0}, "gridDash": [3, 2], "gridColor": "#222", "labelPadding": 8, "titlePadding": 6, "labelOverlap": false}}
              },
              "layer": [
                {"data": {"name": "p6"}, "transform": [{"fold": ["b", "r"], "as": ["s", "v"]}, {"filter": "isValid(datum.v)"}], "mark": {"type": "line", "strokeWidth": 1, "clip": true}, "encoding": {"color": {"field": "s", "type": "nominal", "scale": {"domain": ["r", "b"], "range": ["#ff3311", "#1133e6"]}, "legend": null}}},
                {"data": {"name": "p6"}, "transform": [{"fold": ["b", "r"], "as": ["s", "v"]}, {"filter": "isValid(datum.v)"}], "mark": {"type": "circle", "size": 50, "opacity": 1, "clip": true}, "encoding": {"color": {"field": "s", "type": "nominal", "scale": {"domain": ["r", "b"], "range": ["#ff3311", "#1133e6"]}, "legend": null}}},
                {"data": {"name": "per"}, "mark": {"type": "text", "fontSize": 27, "baseline": "middle", "align": "center", "color": "#000"}, "encoding": {"text": {"field": "label"}}}
              ]
            },
            {
              "data": {"name": "g6"},
              "encoding": {
                "y": {"field": "v", "type": "quantitative", "title": "δ¹³Cb (‰ vs PDB)", "scale": {"domain": [-0.5, 2], "nice": false, "zero": false},
                  "axis": {"orient": "right", "values": [-0.5,-0.4,-0.3,-0.2,-0.1,0,0.1,0.2,0.3,0.4,0.5,0.6,0.7,0.8,0.9,1,1.1,1.2,1.3,1.4,1.5,1.6,1.7,1.8,1.9,2], "labelExpr": "abs(datum.value*2 - round(datum.value*2)) < 0.001 ? '' + round(datum.value*10)/10 : ''", "tickSize": {"condition": {"test": "abs(datum.value*2 - round(datum.value*2)) < 0.001", "value": 15}, "value": 8}, "grid": false, "labelPadding": 5, "titlePadding": 13, "titleAngle": 270, "titleBaseline": "top", "labelOverlap": false}}
              },
              "layer": [
                {"mark": {"type": "line", "color": "#2a9a2a", "strokeWidth": 1, "clip": true}},
                {"mark": {"type": "point", "shape": "M-1,0H1M0,-1V1", "size": 40, "color": "#2a9a2a", "filled": false, "strokeWidth": 1, "opacity": 1, "clip": true}}
              ]
            }
          ]
        }
      ]
    }
  ],
  "spacing": 33
}
